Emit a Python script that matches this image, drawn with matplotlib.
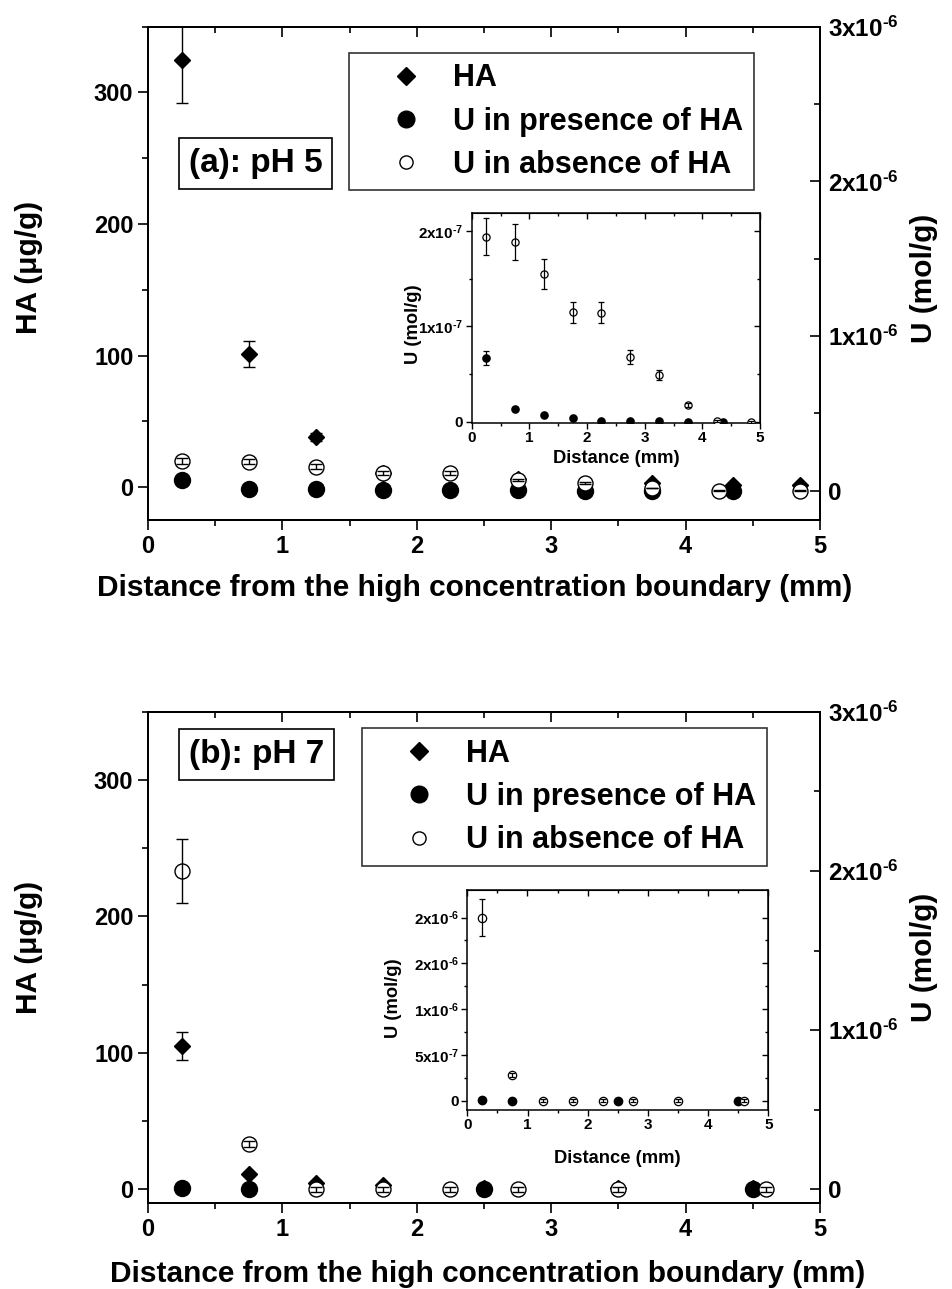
import matplotlib
matplotlib.use("Agg")
import matplotlib.pyplot as plt
import matplotlib.lines as mlines
import numpy as np

plt.rcParams['font.family'] = ['Liberation Sans', 'DejaVu Sans']
plt.rcParams['font.weight'] = 'bold'
plt.rcParams['mathtext.fontset'] = 'custom'
plt.rcParams['mathtext.rm'] = 'Liberation Sans:bold'
plt.rcParams['mathtext.bf'] = 'Liberation Sans:bold'
plt.rcParams['mathtext.it'] = 'Liberation Sans:bold'
plt.rcParams['mathtext.default'] = 'bf'
plt.rcParams['mathtext.fallback'] = 'stixsans'

# ---------------- data: pH 5 ----------------
ha5_x = [0.25, 0.75, 1.25, 1.75, 2.75, 3.75, 4.35, 4.85]
ha5_y = [325, 101, 38, 11, 6, 3, 1.5, 1.5]
ha5_err = [33, 10, 3, 1, 1, 1, 0.5, 0.5]

upres5_x = [0.25, 0.75, 1.25, 1.75, 2.25, 2.75, 3.25, 3.75, 4.35]
upres5_y = [6.7e-8, 1.3e-8, 7.6e-9, 3.6e-9, 1.4e-9, 1.0e-9, 7e-10, 3e-10, 3e-10]
upres5_err = [7e-9, 1e-9, 5e-10, 3e-10, 2e-10, 2e-10, 1e-10, 1e-10, 1e-10]

uabs5_x = [0.25, 0.75, 1.25, 1.75, 2.25, 2.75, 3.25, 3.75, 4.25, 4.85]
uabs5_y = [1.94e-7, 1.88e-7, 1.55e-7, 1.15e-7, 1.14e-7, 6.8e-8, 4.9e-8, 1.8e-8, 7e-10, 2e-10]
uabs5_err = [1.9e-8, 1.9e-8, 1.6e-8, 1.1e-8, 1.1e-8, 7e-9, 5e-9, 2e-9, 1e-9, 1e-9]

# ---------------- data: pH 7 ----------------
ha7_x = [0.25, 0.75, 1.25, 1.75, 2.5, 3.5, 4.5]
ha7_y = [105, 11, 5, 3.5, 1, 1, 1]
ha7_err = [10.5, 1, 0.5, 0.5, 0.3, 0.3, 0.3]

upres7_x = [0.25, 0.75, 2.5, 4.5]
upres7_y = [1.2e-8, 1e-9, 1e-9, 1e-9]
upres7_err = [2e-9, 5e-10, 5e-10, 5e-10]

uabs7_x = [0.25, 0.75, 1.25, 1.75, 2.25, 2.75, 3.5, 4.6]
uabs7_y = [2.0e-6, 2.85e-7, 2e-9, 2e-9, 2e-9, 2e-9, 2e-9, 2e-9]
uabs7_err = [2.0e-7, 2.0e-8, 1.5e-8, 1.5e-8, 1.5e-8, 1.5e-8, 1.5e-8, 1.5e-8]

# ---------------- tick labels ----------------
HY = '\u2010'
x_ticks = [0, 1, 2, 3, 4, 5]
ha_ticks = [0, 100, 200, 300]
u_ticks = [0, 1e-6, 2e-6, 3e-6]
u_ticklabels = ['0', r'$\mathbf{1x10^{%s6}}$' % HY, r'$\mathbf{2x10^{%s6}}$' % HY,
                r'$\mathbf{3x10^{%s6}}$' % HY]
inset5_ticks = [0, 1e-7, 2e-7]
inset5_ticklabels = ['0', r'$\mathbf{1x10^{%s7}}$' % HY, r'$\mathbf{2x10^{%s7}}$' % HY]
inset7_ticks = [0, 5e-7, 1e-6, 1.5e-6, 2e-6]
inset7_ticklabels = ['0', r'$\mathbf{5x10^{%s7}}$' % HY, r'$\mathbf{1x10^{%s6}}$' % HY,
                     r'$\mathbf{2x10^{%s6}}$' % HY, r'$\mathbf{2x10^{%s6}}$' % HY]

labels = ['HA', 'U in presence of HA', 'U in absence of HA']
panel_titles = ['(a): pH 5', '(b): pH 7']

W, H = 953, 1289
fig = plt.figure(figsize=(W / 100, H / 100), dpi=100)

TICK_FS = 17
LAB_FS = 21.5


def pos(l, t, r, b):
    return [l / W, 1 - b / H, (r - l) / W, (b - t) / H]


def style_main(ax, ax2):
    for a in (ax, ax2):
        for s in a.spines.values():
            s.set_linewidth(1.4)
    ax.set_xlim(0, 5)
    ax.set_xticks(x_ticks)
    ax.set_xticks(np.arange(0.5, 5, 1.0), minor=True)
    ax.tick_params(axis='x', which='both', direction='out', top=False, labelsize=TICK_FS,
                   width=1.2)
    ax.tick_params(axis='x', which='major', length=7)
    ax.tick_params(axis='x', which='minor', length=4)
    ax.tick_params(axis='y', which='both', direction='out', labelsize=TICK_FS, width=1.2,
                   right=False)
    ax.tick_params(axis='y', which='major', length=7)
    ax.tick_params(axis='y', which='minor', length=4)
    ax.set_yticks(ha_ticks)
    ax.set_yticks([50, 150, 250, 350], minor=True)
    ax2.set_yticks(u_ticks, u_ticklabels)
    ax2.set_yticks([0.5e-6, 1.5e-6, 2.5e-6], minor=True)
    ax2.tick_params(axis='y', which='both', direction='in', labelsize=17.5, width=1.2, pad=6)
    ax2.tick_params(axis='y', which='major', length=7)
    ax2.tick_params(axis='y', which='minor', length=4)
    # top ticks, pointing inward
    ax2.xaxis.set_visible(True)
    ax2.set_xticks(x_ticks)
    ax2.set_xticks(np.arange(0.5, 5, 1.0), minor=True)
    ax2.tick_params(axis='x', which='both', direction='in', top=True, bottom=False,
                    labeltop=False, labelbottom=False, width=1.2)
    ax2.tick_params(axis='x', which='major', length=7)
    ax2.tick_params(axis='x', which='minor', length=4)


def style_inset(ax, yticks, ylabels, ylim):
    for s in ax.spines.values():
        s.set_linewidth(1.1)
    ax.set_xlim(0, 5)
    ax.set_ylim(*ylim)
    ax.set_xticks(x_ticks)
    ax.set_xticks(np.arange(0.5, 5, 1.0), minor=True)
    ax.set_yticks(yticks, ylabels)
    ax.tick_params(axis='both', which='both', direction='out', labelsize=11, width=1.0, pad=2)
    ax.tick_params(axis='both', which='major', length=4)
    ax.tick_params(axis='both', which='minor', length=2.5)
    top = ax.secondary_xaxis('top')
    top.set_xticks(x_ticks)
    top.set_xticks(np.arange(0.5, 5, 1.0), minor=True)
    top.tick_params(axis='x', which='both', direction='in', labeltop=False, width=1.0)
    top.tick_params(axis='x', which='major', length=4)
    top.tick_params(axis='x', which='minor', length=2.5)
    right = ax.secondary_yaxis('right')
    right.set_yticks(yticks)
    right.set_yticks([(a + b) / 2 for a, b in zip(yticks[:-1], yticks[1:])], minor=True)
    right.tick_params(axis='y', which='both', direction='in', labelright=False, width=1.0)
    right.tick_params(axis='y', which='major', length=4)
    right.tick_params(axis='y', which='minor', length=2.5)
    ax.set_yticks([(a + b) / 2 for a, b in zip(yticks[:-1], yticks[1:])], minor=True)
    ax.set_xlabel('Distance (mm)', fontsize=13.2, fontweight='bold')
    ax.set_ylabel('U (mol/g)', fontsize=13.2, fontweight='bold')


ekw = dict(fmt='none', ecolor='black', elinewidth=1.0, capsize=4, capthick=1.0)


def panel(main_pos, inset_pos, hax, hay, hae, px, py, pe, ax_x, ay, ae,
          ylim_l, ylim_r, title, title_pos, leg_anchor, ins_ylim, ins_ticks, ins_labels,
          ins_ms, ins_ylab, ins_xlab_y, ylab_yl, ylab_yr, xlab_xy):
    ax = fig.add_axes(main_pos)
    ax2 = ax.twinx()
    ax.set_ylim(*ylim_l)
    ax2.set_ylim(*ylim_r)
    ax.plot(hax, hay, 'D', color='black', markersize=8.6, zorder=3)
    ax.errorbar(hax, hay, yerr=hae, zorder=4, **ekw)
    ax2.plot(px, py, 'o', color='black', markersize=11.5, zorder=3)
    ax2.errorbar(px, py, yerr=pe, zorder=4, **ekw)
    ax2.plot(ax_x, ay, 'o', markerfacecolor='white', markeredgecolor='black',
             markeredgewidth=1.0, markersize=10.8, zorder=5)
    ax2.errorbar(ax_x, ay, yerr=ae, zorder=6, **ekw)
    for a in (ax, ax2):
        a.set_xlim(0, 5)
    style_main(ax, ax2)
    ax.set_ylabel('HA (μg/g)', fontsize=LAB_FS, fontweight='bold')
    ax.yaxis.set_label_coords(-0.156, ylab_yl)
    ax2.set_ylabel('U (mol/g)', fontsize=LAB_FS, fontweight='bold')
    ax2.yaxis.set_label_coords(1.134, ylab_yr)
    ax.set_xlabel('Distance from the high concentration boundary (mm)', fontsize=LAB_FS,
                  fontweight='bold')
    ax.xaxis.set_label_coords(*xlab_xy)
    ax2.text(title_pos[0], title_pos[1], title, transform=ax2.transAxes, fontsize=24,
             fontweight='bold', ha='center', va='center', zorder=10,
             bbox=dict(boxstyle='square,pad=0.3', facecolor='white', edgecolor='black',
                       linewidth=1.2))
    lh1 = mlines.Line2D([], [], marker='D', color='black', linestyle='none', markersize=9.5)
    lh2 = mlines.Line2D([], [], marker='o', color='black', linestyle='none', markersize=12)
    lh3 = mlines.Line2D([], [], marker='o', markerfacecolor='white', markeredgecolor='black',
                        linestyle='none', markersize=9.5)
    leg = ax2.legend([lh1, lh2, lh3], labels, loc='upper left', bbox_to_anchor=leg_anchor,
                     bbox_transform=ax2.transAxes, prop=dict(size=22, weight='bold'),
                     frameon=True, fancybox=False, edgecolor='black', borderpad=0.35,
                     handlelength=3.0, handletextpad=0.05, labelspacing=0.43,
                     borderaxespad=0)
    leg.get_frame().set_linewidth(1.2)
    leg.set_zorder(10)

    ins = fig.add_axes(inset_pos)
    ins.set_zorder(20)
    ins.plot(px, py, 'o', color='black', markersize=ins_ms, zorder=3)
    ins.errorbar(px, py, yerr=pe, zorder=4, fmt='none', ecolor='black', elinewidth=0.9,
                 capsize=2.2, capthick=0.9)
    ins.plot(ax_x, ay, 'o', markerfacecolor='white', markeredgecolor='black',
             markeredgewidth=0.9, markersize=ins_ms, zorder=5)
    ins.errorbar(ax_x, ay, yerr=ae, zorder=6, fmt='none', ecolor='black', elinewidth=0.9,
                 capsize=2.2, capthick=0.9)
    style_inset(ins, ins_ticks, ins_labels, ins_ylim)
    ins.yaxis.set_label_coords(*ins_ylab)
    ins.xaxis.set_label_coords(0.5, ins_xlab_y)
    return ax, ax2, ins


panel(pos(148, 26.7, 820, 520), pos(471.7, 212.7, 760, 422.7),
      ha5_x, ha5_y, ha5_err, upres5_x, upres5_y, upres5_err, uabs5_x, uabs5_y, uabs5_err,
      (-25, 350), (-0.19e-6, 3e-6), panel_titles[0], (0.16, 0.7217),
      ((349 - 148) / 672, (520 - 52.7) / 493.3),
      (-0.09e-8, 2.19e-7), inset5_ticks, inset5_ticklabels, 5.2, (-0.172, 0.47), -0.128,
      0.511, 0.49, (0.4866, -0.11))

panel(pos(148, 711.7, 820, 1203), pos(467.3, 890, 768.3, 1110),
      ha7_x, ha7_y, ha7_err, upres7_x, upres7_y, upres7_err, uabs7_x, uabs7_y, uabs7_err,
      (-10, 350), (-0.085e-6, 3e-6), panel_titles[1], (0.1618, 0.9119),
      ((362 - 148) / 672, (1203 - 728.3) / 491.3),
      (-0.1e-6, 2.3e-6), inset7_ticks, inset7_ticklabels, 6.0, (-0.217, 0.51), -0.182,
      0.52, 0.5, (0.506, -0.116))

fig.savefig('out.png', dpi=100)
